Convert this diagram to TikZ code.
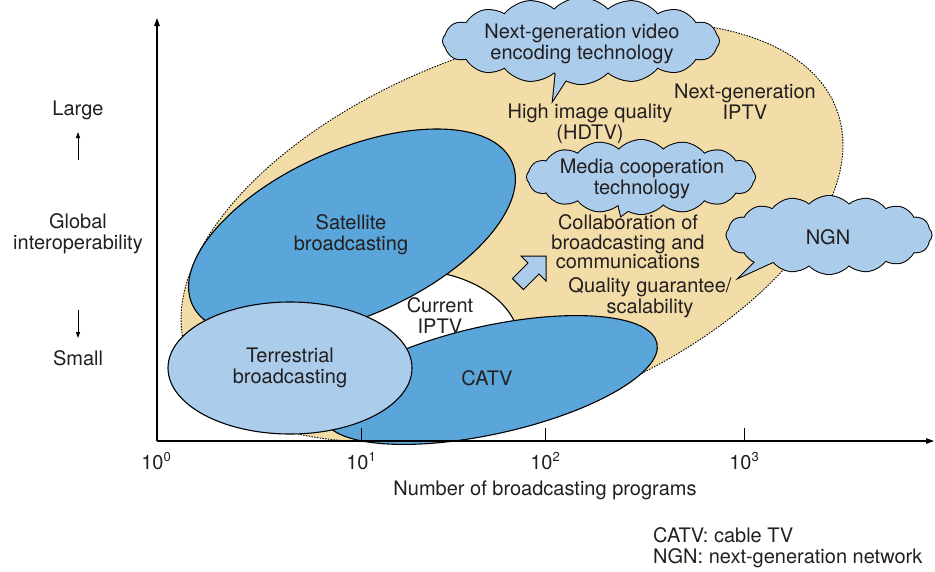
\documentclass[tikz,border=0pt]{standalone}
\usepackage{fontspec}
\setmainfont{TeX Gyre Heros}
\usetikzlibrary{shapes.symbols,arrows.meta}
\definecolor{tanfill}{RGB}{242,221,168}
\definecolor{dblue}{RGB}{90,166,218}
\definecolor{lblue}{RGB}{171,204,235}
\definecolor{txt}{RGB}{35,31,32}
\newcommand\supx[1]{\raisebox{8pt}{\fontsize{13}{13}\selectfont #1}}
\tikzset{
  lbl/.style={text=txt, font=\fontsize{20}{21}\selectfont, align=center, inner sep=0pt},
  shapeline/.style={draw=black, line width=1.1pt},
  puffbase/.style={cloud, cloud puffs=16, cloud puff arc=95, cloud ignores aspect, inner sep=0pt},
  puffline/.style={puffbase, draw=black, fill=lblue, line width=2pt},
  pufffill/.style={puffbase, fill=lblue},
  ptrline/.style={draw=black, fill=lblue, line width=2pt, line join=miter},
  ptrfill/.style={fill=lblue},
  axisline/.style={draw=black, line width=1.1pt},
  ticks/.style={draw=black, line width=0.9pt},
  smallarrow/.style={draw=black, line width=0.9pt, -{Triangle[length=6pt,width=4pt]}}
}
\begin{document}
\begin{tikzpicture}[x=1pt,y=-1pt]
\useasboundingbox (0,0) rectangle (935,571);

% big tan region
\path[fill=tanfill, draw=black, line width=0.9pt, dash pattern=on 1.5pt off 1.3pt,
      rotate around={20.7:(512,232)}] (512,232) ellipse [x radius=347, y radius=182];
% current IPTV (white)
\path[fill=white, shapeline] (410,345) ellipse [x radius=110, y radius=75];
% satellite
\path[fill=dblue, shapeline, rotate around={24:(352,233)}] (352,233) ellipse [x radius=175, y radius=83];
% CATV
\path[fill=dblue, shapeline, rotate around={12.5:(490,380)}] (490,380) ellipse [x radius=171, y radius=54];
% terrestrial
\path[fill=lblue, shapeline] (290,368) ellipse [x radius=122, y radius=66];

% block arrow
\path[fill=lblue, draw=black, line width=1pt, line join=miter]
  (546,256) -- (546,281) -- (539,274) -- (523.4,289.6) -- (512.4,278.6) -- (528,263) -- (521,256) -- cycle;

% clouds: outline pass
\node[puffline, minimum width=276, minimum height=86] (c1) at (581,41) {};
\path[ptrline] (557,60) -- (553,100) -- (579,60) -- cycle;
\node[puffline, minimum width=228, minimum height=74] (c2) at (641,177) {};
\path[ptrline] (616,195) -- (621,216) -- (649,195) -- cycle;
\node[puffline, minimum width=205, minimum height=78] (c3) at (829,235) {};
\path[ptrline] (772,245) -- (740,277) -- (810,245) -- cycle;
% clouds: fill pass
\node[pufffill, minimum width=276, minimum height=86] (c1f) at (581,41) {};
\path[ptrfill] (557,60) -- (553,100) -- (579,60) -- cycle;
\node[pufffill, minimum width=228, minimum height=74] (c2f) at (641,177) {};
\path[ptrfill] (616,195) -- (621,216) -- (649,195) -- cycle;
\node[pufffill, minimum width=205, minimum height=78] (c3f) at (829,235) {};
\path[ptrfill] (772,245) -- (740,277) -- (810,245) -- cycle;

% cloud texts
\node[lbl] (t1) at (582,44) {Next-generation video\\encoding technology};
\node[lbl] (t2) at (642,179) {Media cooperation\\technology};
\node[lbl] (t3) at (828,237) {NGN};

% region texts
\node[lbl] (hq) at (590,124) {High image quality\\(HDTV)};
\node[lbl] (ngi) at (745,102) {Next-generation\\IPTV};
\node[lbl, font=\fontsize{20}{19.5}\selectfont] (collab) at (628,242) {Collaboration of\\broadcasting and\\communications};
\node[lbl] (qg) at (650,298) {Quality guarantee/\\scalability};
\node[lbl] (sat) at (351,235) {Satellite\\broadcasting};
\node[lbl] (cur) at (440,316) {Current\\IPTV};
\node[lbl] (ter) at (290,368) {Terrestrial\\broadcasting};
\node[lbl] (catv) at (487,378) {CATV};

% axes
\coordinate (O) at (157,441);
\coordinate (ytop) at (157,18);
\coordinate (xend) at (934,441);
\draw[axisline, -{Triangle[length=8pt,width=5.5pt]}] (O) -- (ytop);
\draw[axisline, -{Triangle[length=8pt,width=5.5pt]}] (O) -- (xend);
\coordinate (k1) at (361,441); \coordinate (k1t) at (361,428);
\coordinate (k2) at (545,441); \coordinate (k2t) at (545,428);
\coordinate (k3) at (744,441); \coordinate (k3t) at (744,428);
\draw[ticks] (k1) -- (k1t);
\draw[ticks] (k2) -- (k2t);
\draw[ticks] (k3) -- (k3t);

% tick labels
\node[lbl, anchor=base] (x0) at (156,469) {10\supx{0}};
\node[lbl, anchor=base] (x1) at (361,469) {10\supx{1}};
\node[lbl, anchor=base] (x2) at (545,469) {10\supx{2}};
\node[lbl, anchor=base] (x3) at (744,469) {10\supx{3}};
\node[lbl] (xlab) at (545,490) {Number of broadcasting programs};

% y axis labels
\node[lbl] (large) at (78,110) {Large};
\node[lbl] (glob) at (78,234) {Global\\interoperability};
\node[lbl] (small) at (78,358) {Small};
\coordinate (ua) at (78,160); \coordinate (ub) at (78,132);
\coordinate (da) at (78,310); \coordinate (db) at (78,338);
\draw[smallarrow] (ua) -- (ub);
\draw[smallarrow] (da) -- (db);

% legend
\node[lbl, anchor=west] (leg1) at (653,535) {CATV: cable TV};
\node[lbl, anchor=west] (leg2) at (653,558) {NGN: next-generation network};
\end{tikzpicture}
\end{document}
